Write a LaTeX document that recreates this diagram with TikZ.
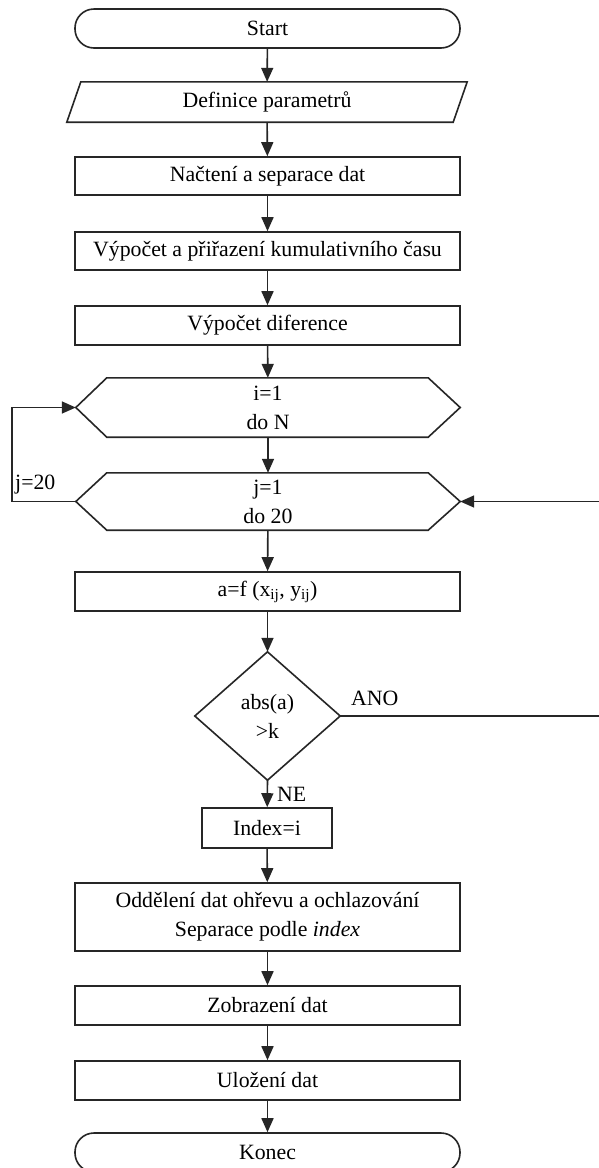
\documentclass[tikz,border=0pt]{standalone}
\usepackage{fontspec}
\setmainfont{Liberation Serif}
\usetikzlibrary{arrows.meta}
\begin{document}
\begin{tikzpicture}[x=1pt,y=-1pt,
  every node/.style={font=\fontsize{21.8}{29}\selectfont},
  line/.style={line width=1.6pt,draw=black!85},
  arr/.style={line/.try,-{Triangle[length=14pt,width=12pt]}},
  procbox/.style={draw=black!85,line width=1.6pt,rectangle,minimum width=385pt,minimum height=39pt,inner sep=0pt,align=center,fill=white},
  termbox/.style={procbox,rounded corners=19pt},
  ghost/.style={rectangle,inner sep=0pt,align=center},
  lbl/.style={inner sep=0pt}
]
\useasboundingbox (0,0) rectangle (598,1168);
\fill[white] (0,0) rectangle (598,1168);

\node[termbox] (start) at (267.5,28.5) {Start};
\node[ghost,minimum width=386pt,minimum height=40pt] (def) at (267,102) {Definice parametrů};
\draw[line] ([xshift=7pt]def.north west) -- ([xshift=7pt]def.north east) -- ([xshift=-7pt]def.south east) -- ([xshift=-7pt]def.south west) -- cycle;
\node[procbox,minimum height=38pt] (nac) at (267.5,176) {Načtení a separace dat};
\node[procbox,minimum height=38pt] (vyp1) at (267.5,251) {Výpočet a přiřazení kumulativního času};
\node[procbox] (vyp2) at (267.5,325.5) {Výpočet diference};

\node[ghost,minimum width=384pt,minimum height=59pt] (hi) at (268,407.5) {i=1\\do N};
\draw[line] (hi.west) -- ([xshift=31pt]hi.north west) -- ([xshift=-32pt]hi.north east) -- (hi.east) -- ([xshift=-32pt]hi.south east) -- ([xshift=31pt]hi.south west) -- cycle;
\node[ghost,minimum width=384pt,minimum height=57pt] (hj) at (268,501.5) {j=1\\do 20};
\draw[line] (hj.west) -- ([xshift=31pt]hj.north west) -- ([xshift=-32pt]hj.north east) -- (hj.east) -- ([xshift=-32pt]hj.south east) -- ([xshift=31pt]hj.south west) -- cycle;

\node[procbox] (af) at (267.5,591.5) {a=f (x\textsubscript{ij}, y\textsubscript{ij})};

\node[ghost,minimum width=145pt,minimum height=128pt] (dec) at (267.5,716) {abs(a)\\>k};
\draw[line] (dec.north) -- (dec.east) -- (dec.south) -- (dec.west) -- cycle;

\node[procbox,minimum width=130pt,minimum height=40pt] (idx) at (267,828) {Index=i};
\node[procbox,minimum height=68pt] (odd) at (267.5,917) {Oddělení dat ohřevu a ochlazování\\Separace podle \textit{index}};
\node[procbox] (zob) at (267.5,1005.5) {Zobrazení dat};
\node[procbox] (ulo) at (267.5,1080.5) {Uložení dat};
\node[termbox] (kon) at (267.5,1152.5) {Konec};

\coordinate (loopL) at (12,501.5);
\coordinate (R1) at (600,501.5);
\coordinate (R2) at (600,716);

\draw[arr] (start) -- (def);
\draw[arr] (def) -- (nac);
\draw[arr] (nac) -- (vyp1);
\draw[arr] (vyp1) -- (vyp2);
\draw[arr] (vyp2) -- (hi);
\draw[arr] (hi) -- (hj);
\draw[arr] (hj) -- (af);
\draw[arr] (af) -- (dec.north);
\draw[arr] (dec.south) -- (idx);
\draw[arr] (idx) -- (odd);
\draw[arr] (odd) -- (zob);
\draw[arr] (zob) -- (ulo);
\draw[arr] (ulo) -- (kon);
\draw[arr] (hj.west) -- (loopL) |- (hi.west);
\draw[arr] (R1) -- (hj.east);
\draw[line] (dec.east) -- (R2);

\node[lbl,anchor=west] (j20) at (15,485) {j=20};
\node[lbl,anchor=west] (ano) at (351,698) {ANO};
\node[lbl,anchor=west] (ne) at (277,794) {NE};
\end{tikzpicture}
\end{document}
